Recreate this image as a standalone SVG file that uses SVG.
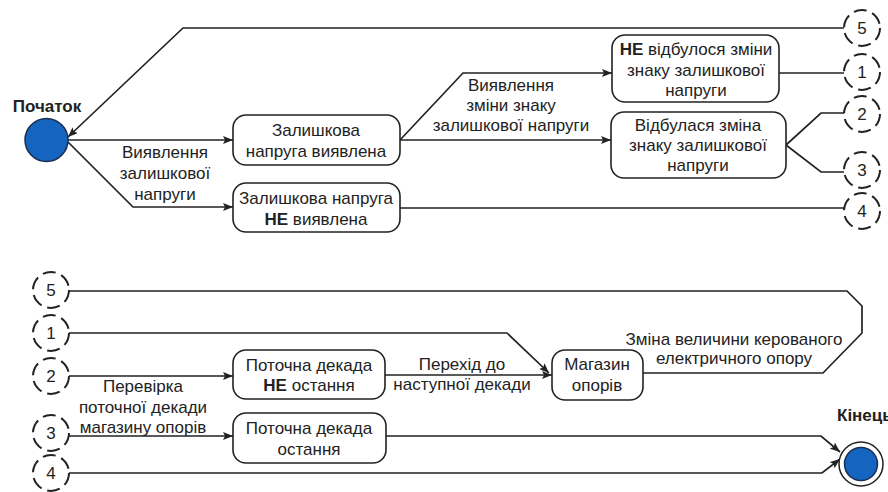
<svg xmlns="http://www.w3.org/2000/svg" width="888" height="492" viewBox="0 0 888 492">
<defs>
<marker id="arr" viewBox="0 0 10 8" refX="10" refY="4" markerWidth="10" markerHeight="8" markerUnits="userSpaceOnUse" orient="auto">
<path d="M0,0 L10,4 L0,8 L2,4 z" fill="#222"/>
</marker>
<style>
text{font-family:"Liberation Sans",Arial,sans-serif;font-size:17px;fill:#222;text-anchor:middle}
.b{font-weight:bold}
.box{fill:#fff;stroke:#222;stroke-width:1.6}
.ln{fill:none;stroke:#222;stroke-width:1.7}
.a{marker-end:url(#arr)}
.con{fill:#fff;stroke:#222;stroke-width:2;stroke-dasharray:13 6}
.dot{fill:#1565c0;stroke:#1a2f4f;stroke-width:1.5}
</style>
</defs>
<rect width="888" height="492" fill="#fff"/>

<g id="connectors">
<path class="ln a" d="M844,28 H183 L68,137"/>
<path class="ln a" d="M68,140 H233"/>
<path class="ln a" d="M68,142 L133,207 H233"/>
<path class="ln a" d="M400,140 L463,73 H612"/>
<path class="ln a" d="M400,140 H611"/>
<path class="ln" d="M779,73 H844"/>
<path class="ln" d="M786,145 L821,113 H844"/>
<path class="ln" d="M786,145 L821,172 H844"/>
<path class="ln" d="M400,208 H844"/>
<path class="ln" d="M69,291 H847 L862,306 V333 L823,373 H643"/>
<path class="ln a" d="M69,333 H507 L549,373"/>
<path class="ln a" d="M69,376 H233"/>
<path class="ln a" d="M385,375 H552"/>
<path class="ln a" d="M69,436 H233"/>
<path class="ln a" d="M386,436 H821 L840,452"/>
<path class="ln a" d="M69,473 H822 L840,459"/>
</g>

<g id="start">
<text class="b" x="47" y="112">Початок</text>
<circle class="dot" cx="46.5" cy="140" r="21.5"/>
</g>

<g id="lbl-detect">
<text x="165" y="158">Виявлення</text>
<text x="165" y="179">залишкової</text>
<text x="165" y="200">напруги</text>
</g>

<g id="box-detected">
<rect class="box" x="233" y="115" width="167" height="50" rx="13"/>
<text x="316" y="136">Залишкова</text>
<text x="316" y="157">напруга виявлена</text>
</g>

<g id="box-not-detected">
<rect class="box" x="233" y="183" width="167" height="49" rx="13"/>
<text x="316" y="204">Залишкова напруга</text>
<text x="316" y="225"><tspan class="b">НЕ</tspan> виявлена</text>
</g>

<g id="lbl-sign">
<text x="511" y="91">Виявлення</text>
<text x="511" y="111">зміни знаку</text>
<text x="511" y="131">залишкової напруги</text>
</g>

<g id="box-no-change">
<rect class="box" x="612" y="35" width="167" height="67" rx="13"/>
<text x="696" y="55"><tspan class="b">НЕ</tspan> відбулося зміни</text>
<text x="696" y="76">знаку залишкової</text>
<text x="696" y="96">напруги</text>
</g>

<g id="box-change">
<rect class="box" x="611" y="112" width="175" height="66" rx="13"/>
<text x="698" y="131">Відбулася зміна</text>
<text x="698" y="151">знаку залишкової</text>
<text x="698" y="171">напруги</text>
</g>

<g id="c5-top"><circle class="con" cx="862" cy="28" r="18"/><text x="862" y="34">5</text></g>
<g id="c1-top"><circle class="con" cx="862" cy="72" r="18"/><text x="862" y="78">1</text></g>
<g id="c2-top"><circle class="con" cx="862" cy="114" r="18"/><text x="862" y="120">2</text></g>
<g id="c3-top"><circle class="con" cx="862" cy="170" r="18"/><text x="862" y="176">3</text></g>
<g id="c4-top"><circle class="con" cx="862" cy="211" r="18"/><text x="862" y="217">4</text></g>

<g id="c5-bot"><circle class="con" cx="51" cy="290" r="18"/><text x="51" y="296">5</text></g>
<g id="c1-bot"><circle class="con" cx="51" cy="333" r="18"/><text x="51" y="339">1</text></g>
<g id="c2-bot"><circle class="con" cx="51" cy="376" r="18"/><text x="51" y="382">2</text></g>
<g id="c3-bot"><circle class="con" cx="51" cy="433" r="18"/><text x="51" y="439">3</text></g>
<g id="c4-bot"><circle class="con" cx="51" cy="473" r="18"/><text x="51" y="479">4</text></g>

<g id="lbl-check">
<text x="143" y="392">Перевірка</text>
<text x="143" y="413">поточної декади</text>
<text x="143" y="433">магазину опорів</text>
</g>

<g id="box-not-last">
<rect class="box" x="233" y="350" width="152" height="49" rx="13"/>
<text x="309" y="371">Поточна декада</text>
<text x="309" y="391"><tspan class="b">НЕ</tspan> остання</text>
</g>

<g id="box-last">
<rect class="box" x="233" y="413" width="153" height="50" rx="13"/>
<text x="309" y="434">Поточна декада</text>
<text x="309" y="455">остання</text>
</g>

<g id="lbl-next">
<text x="462" y="370">Перехід до</text>
<text x="462" y="390">наступної декади</text>
</g>

<g id="box-store">
<rect class="box" x="552" y="350" width="91" height="50" rx="13"/>
<text x="597" y="370">Магазин</text>
<text x="597" y="391">опорів</text>
</g>

<g id="lbl-change">
<text x="734" y="345">Зміна величини керованого</text>
<text x="734" y="364">електричного опору</text>
</g>

<g id="end">
<text class="b" x="837" y="421" style="text-anchor:start">Кінець</text>
<circle cx="861" cy="464" r="22" fill="#fff" stroke="#222" stroke-width="1.5"/>
<circle class="dot" cx="861" cy="464" r="16.5"/>
</g>
</svg>
